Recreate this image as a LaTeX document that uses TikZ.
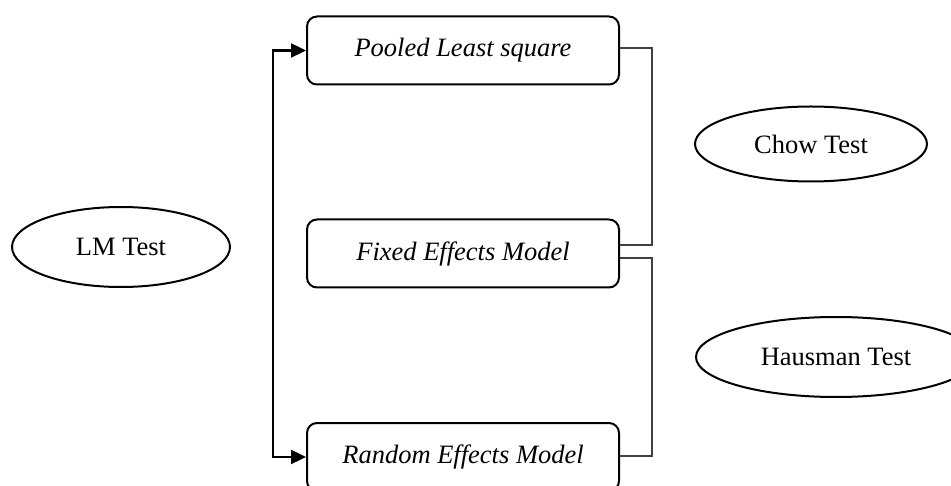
\documentclass[tikz,border=0pt]{standalone}
\usepackage{fontspec}
\setmainfont{Liberation Serif}
\usetikzlibrary{shapes.geometric,arrows.meta}
\begin{document}
\begin{tikzpicture}[x=1pt,y=-1pt,
  font=\fontsize{26.5}{30}\selectfont,
  modelbox/.style={draw, line width=2pt, rounded corners=10pt, minimum width=312pt, minimum height=68pt, inner sep=0pt, font=\fontsize{26.5}{30}\selectfont\itshape},
  testoval/.style={draw, ellipse, line width=2pt, inner sep=0pt},
  feed/.style={line width=2.4pt, {Triangle[length=15pt,width=14pt]}-{Triangle[length=15pt,width=14pt]}},
  bracket/.style={line width=1.3pt, draw=black!75}]
\useasboundingbox (0,0) rectangle (951,486);
\node[modelbox] (pls) at (463,50.5) {Pooled Least square};
\node[modelbox] (fem) at (463,253.5) {Fixed Effects Model};
\node[modelbox] (rem) at (463,457) {Random Effects Model};
\node[testoval, minimum width=218pt, minimum height=80pt] (lm) at (121,247) {LM Test};
\node[testoval, minimum width=232pt, minimum height=75pt] (chow) at (811,144) {Chow Test};
\node[testoval, minimum width=280pt, minimum height=80pt] (haus) at (836,357) {Hausman Test};
\coordinate (spine) at (273,0);
\coordinate (rail) at (652,0);
\draw[feed] (pls.west) -- (pls.west -| spine) -- (rem.west -| spine) -- (rem.west);
\draw[bracket] ([yshift=2.5pt]pls.east) -- ([yshift=2.5pt]pls.east -| rail) -- ([yshift=8.5pt]fem.east -| rail) -- ([yshift=8.5pt]fem.east);
\draw[bracket] ([yshift=-4.5pt]fem.east) -- ([yshift=-4.5pt]fem.east -| rail) -- ([yshift=1pt]rem.east -| rail) -- ([yshift=1pt]rem.east);
\end{tikzpicture}
\end{document}
